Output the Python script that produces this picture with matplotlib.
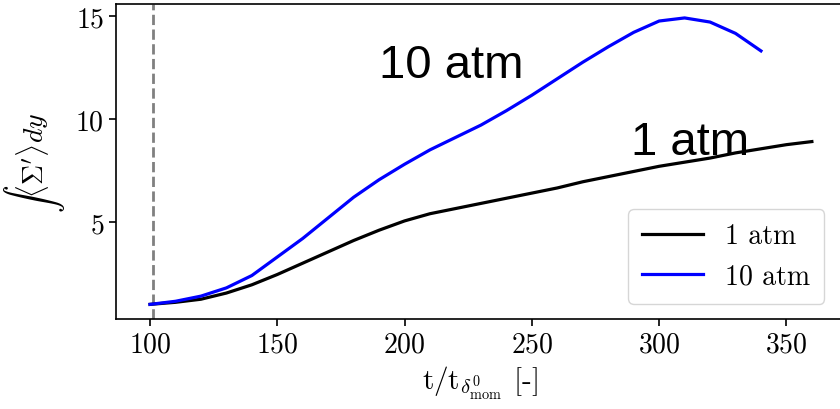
import matplotlib
matplotlib.use('Agg')
import matplotlib.pyplot as plt

plt.rcParams['font.family'] = 'serif'
plt.rcParams['font.serif'] = ['cmr10']
plt.rcParams['mathtext.fontset'] = 'cm'
plt.rcParams['axes.formatter.use_mathtext'] = True
plt.rcParams['axes.unicode_minus'] = False

# time, t / t_delta0_mom
t_1atm = [100, 110, 120, 130, 140, 150, 160, 170, 180, 190, 200, 210, 220, 230,
          240, 250, 260, 270, 280, 290, 300, 310, 320, 330, 340, 350, 360]
s_1atm = [1.0, 1.1, 1.25, 1.55, 1.95, 2.45, 3.0, 3.55, 4.1, 4.6, 5.05, 5.4, 5.65, 5.9,
          6.15, 6.4, 6.65, 6.95, 7.2, 7.45, 7.7, 7.9, 8.1, 8.35, 8.55, 8.75, 8.9]

t_10atm = [100, 110, 120, 130, 140, 150, 160, 170, 180, 190, 200, 210, 220,
           230, 240, 250, 260, 270, 280, 290, 300, 310, 320, 330, 340]
s_10atm = [1.0, 1.15, 1.4, 1.8, 2.4, 3.3, 4.2, 5.2, 6.2, 7.05, 7.8, 8.5, 9.1,
           9.7, 10.4, 11.15, 11.95, 12.75, 13.5, 14.2, 14.75, 14.9, 14.7, 14.15, 13.3]

t_start = 101

fig = plt.figure(figsize=(8.4, 4.1), dpi=100)
ax = fig.add_axes([0.138, 0.2195, 0.867, 0.7685])

ax.axvline(t_start, color='grey', linestyle='--', lw=2)
ax.plot(t_1atm, s_1atm, color='k', lw=2.3, label='1 atm')
ax.plot(t_10atm, s_10atm, color='b', lw=2.3, label='10 atm')

ax.text(189.8, 12.04, '10 atm', family='Liberation Sans', fontsize=34, va='baseline')
ax.text(289, 8.3, '1 atm', family='Liberation Sans', fontsize=34, va='baseline')

ax.set_xlim(86.6, 372.7)
ax.set_ylim(0.29, 15.58)
ax.set_xticks([100, 150, 200, 250, 300, 350])
ax.set_yticks([5, 10, 15])
ax.tick_params(labelsize=20, width=1.2, length=5)
for sp in ax.spines.values():
    sp.set_linewidth(1.2)

ax.set_xlabel(r'$\mathrm{t/t}_{\delta^0_\mathrm{mom}}$ [-]', fontsize=21, labelpad=5)
ax.set_ylabel(r"$\int\langle\Sigma'\rangle dy$", fontsize=20, labelpad=6)

ax.legend(loc='lower right', fontsize=20, handlelength=2.2, borderpad=0.5,
          bbox_to_anchor=(0.992, 0.005))

fig.savefig('out.png', dpi=100)
